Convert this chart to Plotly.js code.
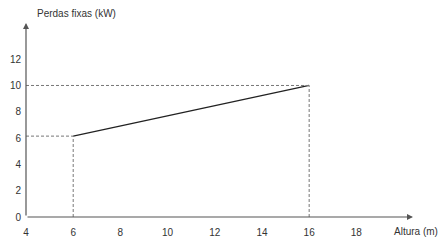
<!DOCTYPE html>
<html><head><meta charset="utf-8">
<script src="https://cdn.plot.ly/plotly-3.0.1.min.js"></script>
<style>html,body{margin:0;padding:0;background:#fff}#c{width:447px;height:246px}</style>
</head><body><div id="c"></div>
<script>
const alturas = [6, 16];
const perdas = [6.15, 10];
const xTicks = [4, 6, 8, 10, 12, 14, 16, 18];
const yTicks = [0, 2, 4, 6, 8, 10, 12];
const xTitle = 'Altura (m)';
const yTitle = 'Perdas fixas (kW)';

const xMin = 4, xMax = 20.4, yMin = 0, yMax = 14.75;
const dashColor = '#777';
const shapes = [];
alturas.forEach((x, i) => {
  shapes.push({type:'line', xref:'x', yref:'y', x0:xMin, x1:x, y0:perdas[i], y1:perdas[i], line:{color:dashColor, width:1, dash:'3px,2px'}});
  shapes.push({type:'line', xref:'x', yref:'y', x0:x, x1:x, y0:yMin, y1:perdas[i], line:{color:dashColor, width:1, dash:'3px,2px'}});
});

const data = [{x: alturas, y: perdas, type:'scatter', mode:'lines', line:{color:'#222', width:1.3}, hoverinfo:'skip'}];

const pw = 447 - 26 - 34, ph = 246 - 23 - 29;
const layout = {
  width:447, height:246,
  margin:{l:26, r:34, t:23, b:29},
  paper_bgcolor:'#fff', plot_bgcolor:'#fff',
  showlegend:false,
  font:{family:'Liberation Sans, Arial, sans-serif', size:10, color:'#333'},
  xaxis:{range:[xMin, xMax], tickvals:xTicks, ticktext:xTicks.map(String), showgrid:false, zeroline:false, showline:false, ticks:'', ticklabelstandoff:8, fixedrange:true},
  yaxis:{range:[yMin, yMax], tickvals:yTicks, ticktext:yTicks.map(String), showgrid:false, zeroline:false, showline:false, ticks:'', ticklabelstandoff:4, fixedrange:true},
  shapes: shapes,
  annotations:[
    {x:xMax, y:yMin, ax:xMin, ay:yMin, xref:'x', yref:'y', axref:'x', ayref:'y', showarrow:true, arrowhead:2, arrowsize:1, arrowwidth:1.2, arrowcolor:'#555', text:''},
    {x:xMin, y:yMax, ax:xMin, ay:yMin, xref:'x', yref:'y', axref:'x', ayref:'y', showarrow:true, arrowhead:2, arrowsize:1, arrowwidth:1.2, arrowcolor:'#555', text:''},
    {xref:'paper', yref:'paper', x:(35-26)/pw, y:1+(23-14)/ph, xanchor:'left', yanchor:'middle', text:yTitle, showarrow:false, font:{size:10, color:'#333'}},
    {xref:'paper', yref:'paper', x:(440-26)/pw, y:-(231-217)/ph, xanchor:'right', yanchor:'middle', text:xTitle, showarrow:false, font:{size:10, color:'#333'}}
  ]
};
Plotly.newPlot('c', data, layout, {staticPlot:true, displayModeBar:false});
</script></body></html>
